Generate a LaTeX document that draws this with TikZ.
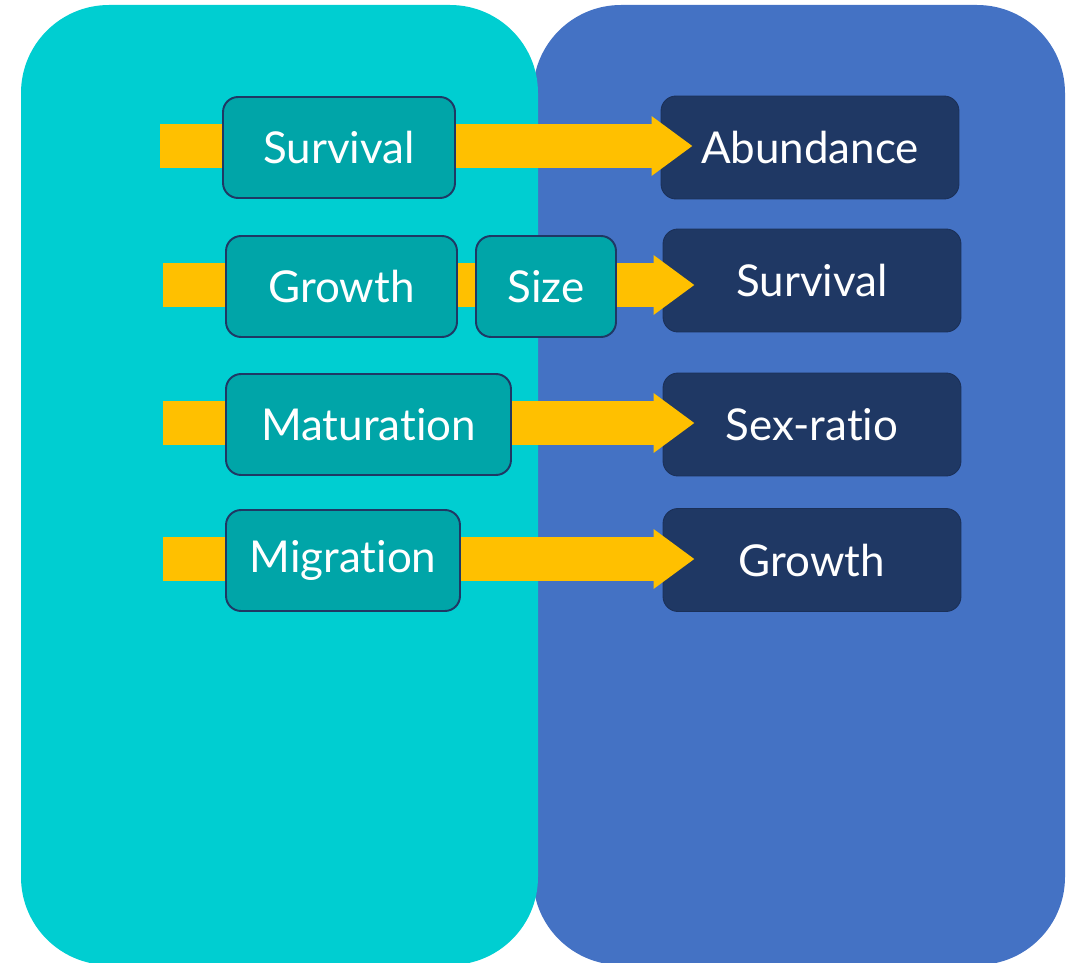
\documentclass[tikz,border=0pt]{standalone}
\usepackage{fontspec}
\setmainfont{Lato}[Ligatures={NoCommon,NoRequired}]
\usetikzlibrary{arrows.meta,calc}

\definecolor{paneltürkis}{RGB}{0,206,209}
\definecolor{panelblue}{RGB}{68,114,196}
\definecolor{boxteal}{RGB}{0,165,168}
\definecolor{boxnavy}{RGB}{31,56,100}
\definecolor{edgenavy}{RGB}{27,48,88}
\definecolor{flowgold}{RGB}{255,192,0}

\tikzset{
    procbox/.style={draw=boxnavy,line width=1.1pt,fill=boxteal,rounded corners=0.3cm,
        minimum height=2.02cm,inner sep=0pt,text=white,
        font=\fontsize{25}{29}\selectfont},
    outbox/.style={draw=edgenavy,line width=0.5pt,fill=boxnavy,rounded corners=0.3cm,
        minimum width=5.96cm,minimum height=2.06cm,inner sep=0pt,text=white,
        font=\fontsize{25}{29}\selectfont},
    flow/.style={draw=flowgold,line width=0.9cm,
        -{Triangle[length=0.82cm,width=1.14cm]}}
}

\begin{document}
\begin{tikzpicture}[x=0.02cm,y=-0.02cm]
    \useasboundingbox (0,0) rectangle (1079,963);

    % two panels
    \fill[panelblue,rounded corners=1.76cm] (533,5) rectangle (1065,965);
    \fill[paneltürkis,rounded corners=1.76cm] (21,5) rectangle (538,965);

    % outcomes
    \node[outbox] (abund) at (810,147.5) {Abundance};
    \node[outbox] (survR) at (812,280.5) {Survival};
    \node[outbox] (sexr)  at (812,424.5) {Sex-ratio};
    \node[outbox] (growR) at (812,560) {Growth};

    % arrows start at the panel edge
    \coordinate (s1) at (160,146);
    \coordinate (s2) at (163,285);
    \coordinate (s3) at (163,423);
    \coordinate (s4) at (163,559);

    \draw[flow] (s1) -- ($(s1 -| abund.west)+(0.64cm,0pt)$);
    \draw[flow] (s2) -- ($(s2 -| survR.west)+(0.64cm,0pt)$);
    \draw[flow] (s3) -- ($(s3 -| sexr.west)+(0.64cm,0pt)$);
    \draw[flow] (s4) -- ($(s4 -| growR.west)+(0.64cm,0pt)$);

    % processes sit on top of the arrows
    \node[procbox,minimum width=4.64cm] (survL) at (339,147.5) {Survival};
    \node[procbox,minimum width=4.62cm] (growL) at (341.5,286.5) {Growth};
    \node[procbox,minimum width=2.80cm] (size)  at (546,286.5) {Size};
    \node[procbox,minimum width=5.70cm] (matur) at (368.5,424.5) {Maturation};
    \node[procbox,minimum width=4.68cm] (migr)  at (343,560.5) {Migration};
\end{tikzpicture}
\end{document}
